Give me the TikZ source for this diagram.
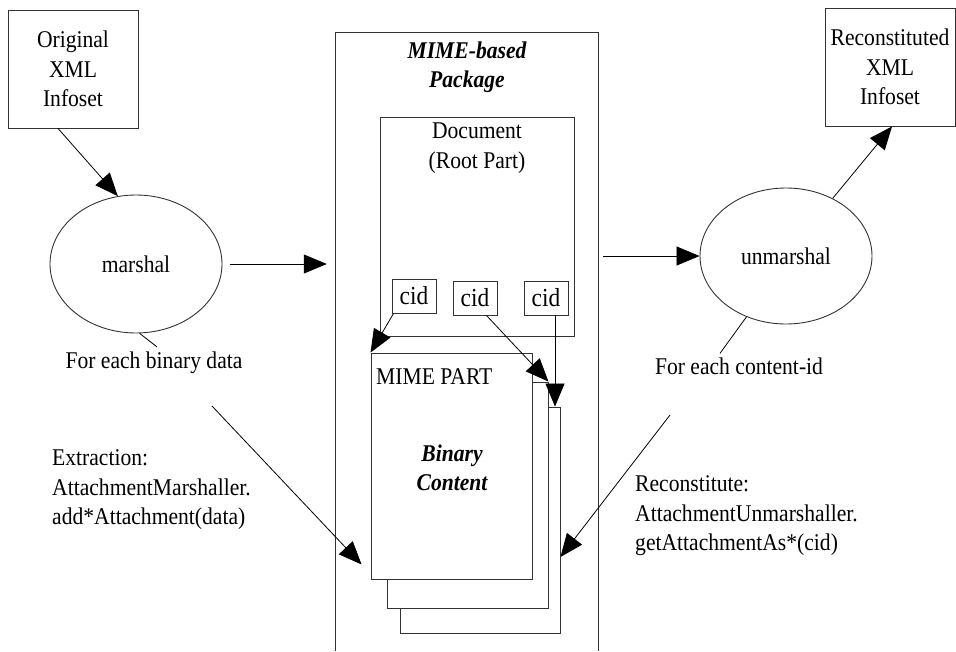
\documentclass[tikz,border=0pt]{standalone}
\usepackage{fontspec}
\setmainfont[FakeStretch=0.9]{Liberation Serif}
\usetikzlibrary{arrows.meta,shapes.geometric}
\begin{document}
\begin{tikzpicture}[x=1pt,y=-1pt,
  txt/.style={font=\fontsize{24}{29.5}\selectfont, inner sep=0pt, align=center},
  btxt/.style={txt, font=\fontsize{24}{29.5}\selectfont\bfseries\itshape},
  box/.style={draw=black!80, line width=0.9pt, rectangle, inner sep=0pt, txt},
  page/.style={box, fill=white, minimum width=161pt, minimum height=226pt},
  cidbox/.style={box, fill=white, minimum width=44pt, minimum height=34pt, font=\fontsize{26}{28}\selectfont},
  proc/.style={draw=black!80, line width=0.9pt, ellipse, inner sep=0pt, txt},
  arr/.style={draw=black, line width=0.8pt, -{Triangle[length=23pt,width=19pt]}},
  con/.style={draw=black, line width=0.8pt}]
\useasboundingbox (0,0) rectangle (956,651);

% outer boxes
\node[box, minimum width=130pt, minimum height=118pt] (orig) at (73,69) {Original\\XML\\Infoset};
\node[box, minimum width=130pt, minimum height=118pt] (recon) at (890,67) {Reconstituted\\XML\\Infoset};

% processes
\node[proc, minimum width=172pt, minimum height=138pt] (marshal) at (136,264) {marshal};
\node[proc, minimum width=172pt, minimum height=136pt] (unmarshal) at (786,256) {unmarshal};

% package (open at bottom)
\node[minimum width=262pt, minimum height=618pt, inner sep=0pt] (pkg) at (467,342) {};
\draw[draw=black!80, line width=0.9pt] (pkg.south west) -- (pkg.north west) -- (pkg.north east) -- (pkg.south east);
\node[btxt] (pkgtitle) at (467,67) {MIME-based\\Package};

% document
\node[box, minimum width=194pt, minimum height=219pt] (doc) at (477,226.5) {};
\node[txt] (doctitle) at (477,148) {Document\\(Root Part)};

% cid boxes
\node[cidbox] (cid1) at (414,296) {cid};
\node[cidbox] (cid2) at (475,298) {cid};
\node[cidbox] (cid3) at (546,298) {cid};

% pages
\node[page, minimum width=160pt] (page3) at (480,520) {};
\node[page] (page2) at (467.5,495) {};
\node[page] (page1) at (451.5,466) {};
\node[txt, anchor=west] (mimepart) at (376,377) {MIME PART};
\node[btxt] (binary) at (452,468) {Binary\\Content};

% labels
\node[txt] (lab1) at (154,363) {For each binary data};
\node[txt] (lab2) at (739,366) {For each content-id};
\node[txt, align=left, anchor=west] (extr) at (52,490) {Extraction:\\AttachmentMarshaller.\\add*Attachment(data)};
\node[txt, align=left, anchor=west] (recs) at (635,516) {Reconstitute:\\AttachmentUnmarshaller.\\getAttachmentAs*(cid)};

% connectors
\draw[arr] ([xshift=-15pt]orig.south) -- (marshal.105);
\draw[arr] ([xshift=8pt]marshal.east) -- ([xshift=-9pt]marshal.east -| pkg.west);
\draw[arr] ([xshift=5pt]unmarshal.west -| pkg.east) -- (unmarshal.west);
\draw[arr] (unmarshal.51) -- ([xshift=2pt]recon.south);
\draw[con] (marshal.-87) -- ([xshift=3pt,yshift=5pt]lab1.north);
\draw[con] (unmarshal.-123) -- ([xshift=-19pt,yshift=4pt]lab2.north);

\draw[arr] ([xshift=2pt]cid1.south west) -- (page1.north west);
\draw[arr] ([xshift=-11pt]cid2.south east) -- (page2.north east);
\draw[arr] ([xshift=9pt]cid3.south) -- ([xshift=9pt]cid3.south |- page3.north);

\coordinate (exstart) at (212,406);
\draw[arr] (exstart) -- ([xshift=-9pt,yshift=15pt]page1.south west);
\coordinate (rcstart) at (670,415);
\draw[arr] (rcstart) -- ([yshift=-37pt]page3.east);
\end{tikzpicture}
\end{document}
